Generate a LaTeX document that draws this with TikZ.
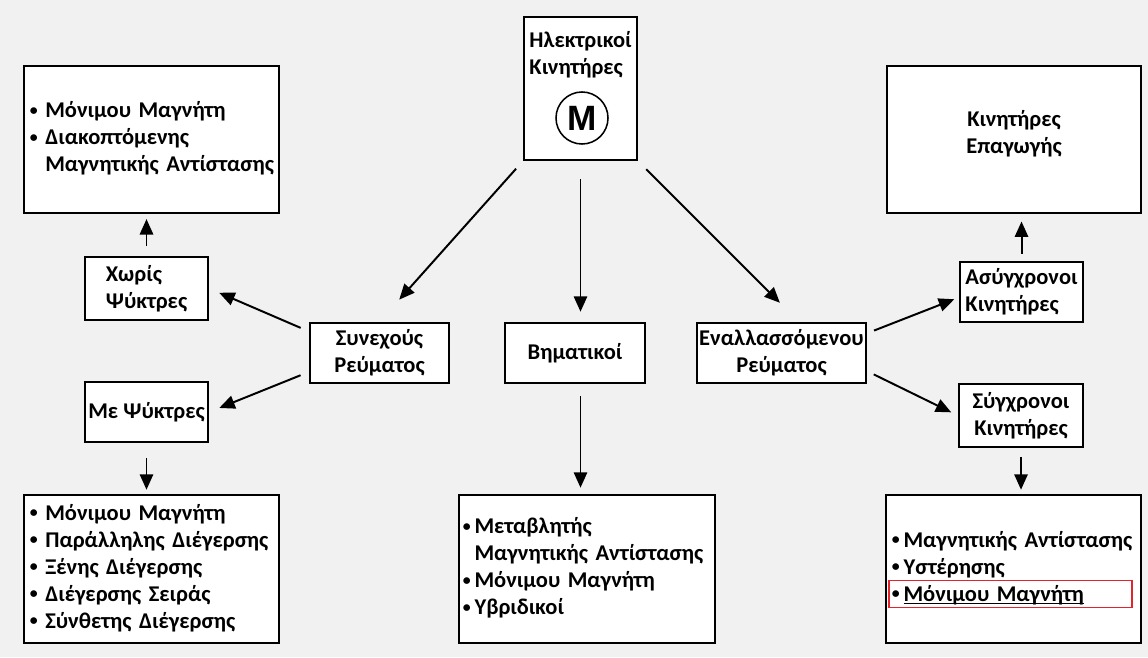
\documentclass[tikz,border=0pt]{standalone}
\usepackage{fontspec}
\setmainfont{Carlito}
\newfontfamily\motorfont{Liberation Sans}
\usetikzlibrary{arrows.meta,positioning}
\definecolor{bggray}{RGB}{241,241,241}
\definecolor{markred}{RGB}{226,36,44}
\newcommand{\itm}{\raisebox{0.25ex}{\scalebox{0.7}{\textbullet}}}

\begin{document}
\begin{tikzpicture}[
  x=0.025cm, y=-0.025cm,
  font=\fontsize{16}{19.2}\selectfont\bfseries,
  box/.style={draw,line width=1.8pt,fill=white,inner sep=0pt},
  listbox/.style={box,align=left,text width=#1,inner xsep=0.15cm},
  plaintext/.style={inner sep=0pt},
  link/.style={-{Triangle[length=11pt,width=9.5pt]},line width=1.4pt},
  redframe/.style={draw=markred,line width=1.1pt}]

  % page and background
  \useasboundingbox (0,0) rectangle (1148,657);
  \fill[bggray] (0,0) rectangle (1148,657);

  % top row
  \node[box,minimum width=2.825cm,minimum height=3.575cm] (EM) at (580.5,88.5) {};
  \node[plaintext,align=left,below=0.38cm of EM.north] (EMtext) {Ηλεκτρικοί\\Κινητήρες};
  \node[draw,circle,line width=1.1pt,minimum size=1.3cm,inner sep=0pt,
    font=\motorfont\bfseries\fontsize{25}{25}\selectfont] (MOT) at (582,118) {M};
  \node[listbox=6.075cm,minimum height=3.675cm] (TL) at (151.5,139.5)
    {\begin{tabular}{@{}l@{\ }l@{}}
      \itm & Μόνιμου Μαγνήτη\\
      \itm & Διακοπτόμενης\\
           & Μαγνητικής Αντίστασης
    \end{tabular}};
  \node[box,align=center,text depth=0.4cm,minimum width=6.35cm,minimum height=3.675cm] (KE) at (1014,139.5)
    {Κινητήρες\\Επαγωγής};

  % middle row
  \node[box,align=left,minimum width=3.075cm,minimum height=1.575cm] (XP) at (146.5,288.5) {Χωρίς\\Ψύκτρες};
  \node[box,minimum width=3.075cm,minimum height=1.5cm] (MP) at (146.5,412) {Με Ψύκτρες};
  \node[box,align=center,minimum width=3.475cm,minimum height=1.5cm] (SR) at (379.5,353) {Συνεχούς\\Ρεύματος};
  \node[box,minimum width=3.5cm,minimum height=1.5cm] (BM) at (575,353) {Βηματικοί};
  \node[box,align=center,minimum width=4.225cm,minimum height=1.5cm] (ER) at (781.5,353) {Εναλλασσόμενου\\Ρεύματος};
  \node[box,align=left,minimum width=3.075cm,minimum height=1.5cm] (AK) at (1021.5,292) {Ασύγχρονοι\\Κινητήρες};
  \node[box,align=center,minimum width=3.1cm,minimum height=1.575cm] (SK) at (1021,415.5) {Σύγχρονοι\\Κινητήρες};

  % bottom row
  \node[listbox=6.075cm,minimum height=3.7cm] (BL) at (151.5,569)
    {\begin{tabular}{@{}l@{\ }l@{}}
      \itm & Μόνιμου Μαγνήτη\\
      \itm & Παράλληλης Διέγερσης\\
      \itm & Ξένης Διέγερσης\\
      \itm & Διέγερσης Σειράς\\
      \itm & Σύνθετης Διέγερσης
    \end{tabular}};
  \node[listbox=6.2cm,inner xsep=0.1cm,minimum height=3.7cm] (BC) at (587,569)
    {\begin{tabular}{@{}l@{\,}l@{}}
      \itm & Μεταβλητής\\
           & Μαγνητικής Αντίστασης\\
      \itm & Μόνιμου Μαγνήτη\\
      \itm & Υβριδικοί
    \end{tabular}};
  \node[listbox=6.075cm,minimum height=3.7cm] (BR) at (1013.5,569)
    {\begin{tabular}{@{}l@{\,}l@{}}
      \itm & Μαγνητικής Αντίστασης\\
      \itm & Υστέρησης\\
      \itm & \underline{\smash{Μόνιμου Μαγνήτη}}
    \end{tabular}};
  \node[redframe,minimum width=6.075cm,minimum height=0.675cm,inner sep=0pt] (HL) at (1010.5,594) {};

  % arrows
  \draw[link,shorten <=0.25cm,shorten >=0.74cm] (EM.south west) -- (SR.north);
  \draw[link,shorten <=0.45cm,shorten >=0.25cm] (EM.south) -- (EM.south |- BM.north);
  \draw[link,shorten <=0.28cm,shorten >=0.67cm] (EM.south east) -- (ER.61);
  \draw[link,shorten <=0.22cm,shorten >=0.27cm] (SR.163) -- (XP.east);
  \draw[link,shorten <=0.22cm,shorten >=0.27cm] (SR.195) -- (MP.east);
  \draw[link,shorten <=0.25cm,shorten >=0.12cm] (XP.north) -- (XP.north |- TL.south);
  \draw[link,shorten <=0.38cm,shorten >=0.1cm] (MP.south) -- (MP.south |- BL.north);
  \draw[link,shorten <=0.3cm,shorten >=0.15cm] (BM.south -| EM.south) -- (EM.south |- BC.north);
  \draw[link,shorten <=0.18cm,shorten >=0.12cm] (ER.13) -- (AK.185);
  \draw[link,shorten <=0.18cm,shorten >=0.18cm] (ER.348) -- (SK.west);
  \draw[link,shorten <=0.18cm,shorten >=0.18cm] (AK.north) -- (AK.north |- KE.south);
  \draw[link,shorten <=0.22cm,shorten >=0.1cm] (SK.south) -- (SK.south |- BR.north);
\end{tikzpicture}
\end{document}
